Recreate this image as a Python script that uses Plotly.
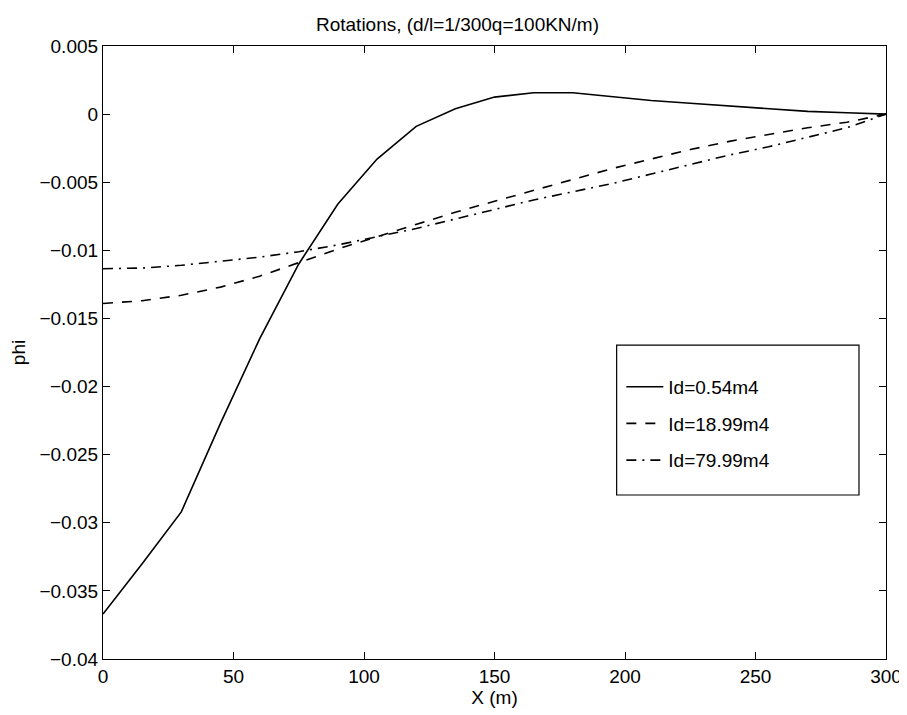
import plotly.graph_objects as go

x_m = [0, 15, 30, 45, 60, 75, 90, 105, 120, 135, 150, 165, 180, 195, 210, 225, 240, 255, 270, 285, 300]

phi_054 = [-0.0367, -0.0330, -0.0292, -0.0227, -0.0165, -0.0110, -0.0066, -0.0033, -0.0009, 0.0004,
           0.00125, 0.00157, 0.00157, 0.0013, 0.0010, 0.0008, 0.0006, 0.00035, 0.0002, 0.0001, 0.0]
phi_1899 = [-0.0139, -0.0137, -0.0133, -0.0127, -0.0119, -0.0109, -0.0099, -0.0090, -0.0081, -0.0072,
            -0.0064, -0.0056, -0.0048, -0.0040, -0.0033, -0.0026, -0.0020, -0.0015, -0.0010, -0.0006, 0.0]
phi_7999 = [-0.01135, -0.0113, -0.0111, -0.0108, -0.0105, -0.0101, -0.0096, -0.0090, -0.0084, -0.0077,
            -0.0070, -0.0063, -0.0057, -0.0051, -0.0044, -0.0037, -0.0030, -0.0024, -0.0017, -0.0010, 0.0]

names = ["Id=0.54m4", "Id=18.99m4", "Id=79.99m4"]
series = [phi_054, phi_1899, phi_7999]
dashes = ["solid", "10px,9px", "10px,6px,2px,6px"]

FONT = "Liberation Sans, Arial, Helvetica, sans-serif"
FS = 19

fig = go.Figure()
for i, (n, s, d) in enumerate(zip(names, series, dashes)):
    fig.add_trace(go.Scatter(x=x_m, y=s, mode="lines", name=n, legendgroup=f"g{i}",
                             line=dict(color="black", width=1.6, dash=d)))

fig.add_shape(type="rect", xref="paper", yref="paper", x0=0.656, x1=0.9655, y0=0.2675, y1=0.512,
              line=dict(color="black", width=1.2), fillcolor="rgba(0,0,0,0)", layer="above")

axis_common = dict(showgrid=False, zeroline=False, showline=True, linecolor="black", linewidth=1.2,
                   mirror="allticks", ticks="inside", ticklen=7, tickcolor="black", tickwidth=1.2,
                   automargin=False,
                   tickfont=dict(family=FONT, size=FS, color="black"))

# the page body adds an 8px margin, so the figure is sized 8px smaller
fig.update_layout(
    width=899, height=707,
    margin=dict(l=95, r=21, t=38, b=56),
    paper_bgcolor="white", plot_bgcolor="white",
    font=dict(family=FONT, size=FS, color="black"),
    title=dict(text="Rotations, (d/l=1/300q=100KN/m)", x=0.5, xanchor="center", y=0.977, yanchor="middle",
               font=dict(family=FONT, size=FS, color="black")),
    xaxis=dict(range=[0, 300], dtick=50, tick0=0,
               title=dict(text="X (m)", standoff=2, font=dict(family=FONT, size=FS)), **axis_common),
    yaxis=dict(range=[-0.04, 0.005], dtick=0.005, tick0=0,
               title=dict(text="phi", standoff=8, font=dict(family=FONT, size=FS)), **axis_common),
    legend=dict(x=0.662, y=0.475, xanchor="left", yanchor="top", bgcolor="rgba(0,0,0,0)",
                borderwidth=0, font=dict(family=FONT, size=FS, color="black"),
                tracegroupgap=9, itemwidth=37, traceorder="grouped"),
    showlegend=True,
)

fig.write_html("out.html")
